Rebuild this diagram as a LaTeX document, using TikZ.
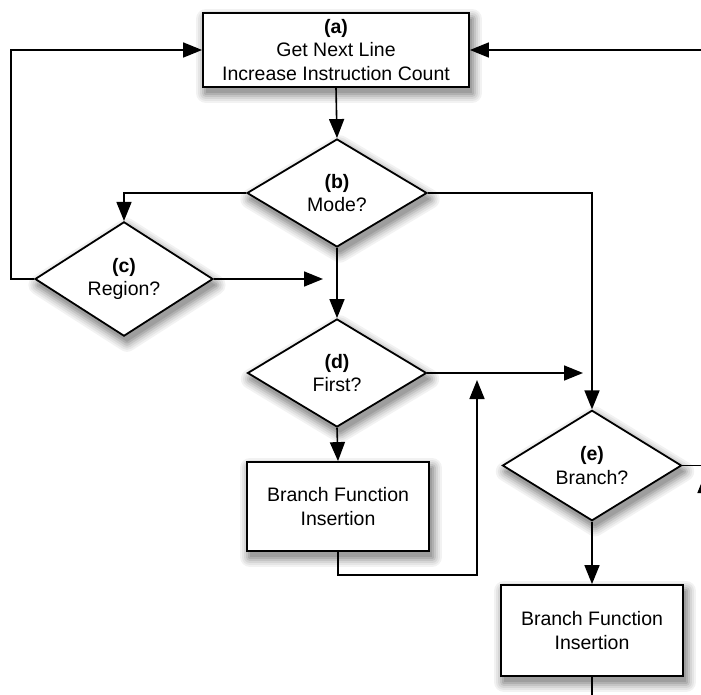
\documentclass[tikz,border=0pt]{standalone}
\usepackage{fontspec}
\setmainfont{Liberation Sans}
\usetikzlibrary{arrows.meta,shapes.geometric}

\tikzset{
  every node/.style={font=\fontsize{19.5}{23.5}\selectfont, align=center},
  % one ring of the soft drop shadow: outline stroked at an offset
  shadowring/.style 2 args={preaction={draw=black!#1, line width=#2,
      line join=round, transform canvas={xshift=3pt, yshift=-6pt}}},
  softshadow/.style={
    shadowring={5}{20pt}, shadowring={10}{16pt}, shadowring={16}{12pt},
    shadowring={23}{8pt}, shadowring={31}{4pt},
    preaction={fill=black!38, transform canvas={xshift=3pt, yshift=-6pt}}},
  procbox/.style={softshadow, draw, line width=1.8pt, fill=white, inner sep=0pt},
  decision/.style={softshadow, draw, diamond, line width=1.8pt, fill=white,
      inner sep=0pt, minimum width=180pt, minimum height=108pt},
  flow/.style={line width=1.6pt, -{Triangle[length=19pt,width=15pt]}},
  plain/.style={line width=1.6pt},
}

\begin{document}
\begin{tikzpicture}[x=1pt, y=-1pt]
  \useasboundingbox (0,0) rectangle (701,695);

  % process boxes and decisions
  \node[procbox, minimum width=266pt, minimum height=74pt] (a) at (336,50)
    {\textbf{(a)}\\Get Next Line\\Increase Instruction Count};
  \node[decision] (b) at (337,193) {\textbf{(b)}\\Mode?};
  \node[decision, minimum width=178pt] (c) at (124,279) {\textbf{(c)}\\Region?};
  \node[decision, minimum width=179pt] (d) at (337,373) {\textbf{(d)}\\First?};
  \node[decision, minimum width=179pt, minimum height=109pt] (e) at (592,465.5) {\textbf{(e)}\\Branch?};
  \node[procbox, minimum width=182pt, minimum height=89pt] (f1) at (338,506.5)
    {Branch Function\\Insertion};
  \node[procbox, minimum width=182pt, minimum height=91pt] (f2) at (592,630.5)
    {Branch Function\\Insertion};

  % loose ends of connectors
  \coordinate (inR) at (701,50);
  \coordinate (loopL) at (11,279);
  \coordinate (cEnd) at (323,279);
  \coordinate (dEnd) at (583,373);
  \coordinate (f1Turn) at (477,575);
  \coordinate (f1End) at (477,380);
  \coordinate (eOut) at (701,465.5);
  \coordinate (upFrom) at (705,560);
  \coordinate (upTo) at (705,474);
  \coordinate (f2Out) at (592,695);

  % connectors
  \draw[flow] (inR) -- (a.east);
  \draw[flow] (c.west) -- (loopL) |- (a.west);
  \draw[flow] (a.south) -- (b.north);
  \draw[flow] (b.west) -| (c.north);
  \draw[flow] (c.east) -- (cEnd);
  \draw[flow] (b.south) -- (d.north);
  \draw[flow] (d.east) -- (dEnd);
  \draw[flow] (b.east) -| (e.north);
  \draw[flow] (d.south) -- (f1.north);
  \draw[flow] (f1.south) |- (f1Turn) -- (f1End);
  \draw[plain] (e.east) -- (eOut);
  \draw[flow] (e.south) -- (f2.north);
  \draw[plain] (f2.south) -- (f2Out);
  % connector entering from beyond the right edge
  \begin{scope}
    \clip (0,0) rectangle (701,695);
    \draw[flow] (upFrom) -- (upTo);
  \end{scope}
\end{tikzpicture}
\end{document}
